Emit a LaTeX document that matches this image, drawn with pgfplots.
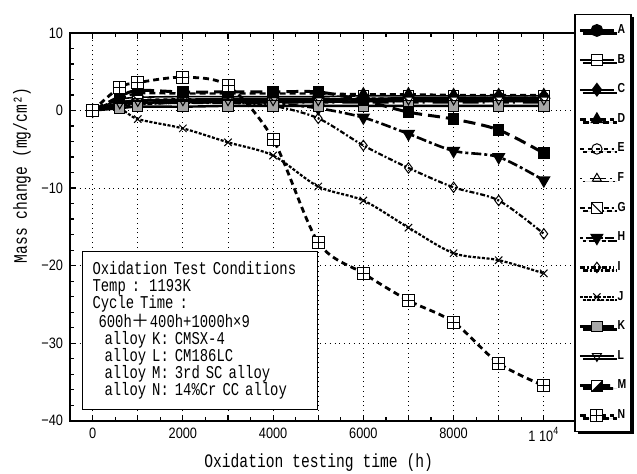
\documentclass[border=0pt]{standalone}
\usepackage{fontspec}
\setmainfont{Liberation Mono}[FakeStretch=0.77]
\newfontfamily\ticksf{Liberation Sans}[FakeStretch=0.85]
\newfontfamily\legsf{Liberation Sans}[FakeStretch=0.8]
\newfontfamily\cjk{Noto Sans CJK JP}
\usepackage{pgfplots}
\pgfplotsset{compat=1.18}
\usetikzlibrary{shadows}

% square marks used by B, G, M, N
\pgfdeclareplotmark{sqcross}{%
  \pgfpathrectangle{\pgfpoint{-\pgfplotmarksize}{-\pgfplotmarksize}}{\pgfpoint{2\pgfplotmarksize}{2\pgfplotmarksize}}%
  \pgfusepathqfillstroke
  \pgfpathmoveto{\pgfpoint{-\pgfplotmarksize}{0pt}}\pgfpathlineto{\pgfpoint{\pgfplotmarksize}{0pt}}%
  \pgfpathmoveto{\pgfpoint{0pt}{-\pgfplotmarksize}}\pgfpathlineto{\pgfpoint{0pt}{\pgfplotmarksize}}%
  \pgfusepathqstroke}
\pgfdeclareplotmark{sqhline}{%
  \pgfpathrectangle{\pgfpoint{-\pgfplotmarksize}{-\pgfplotmarksize}}{\pgfpoint{2\pgfplotmarksize}{2\pgfplotmarksize}}%
  \pgfusepathqfillstroke
  \pgfpathmoveto{\pgfpoint{-\pgfplotmarksize}{0pt}}\pgfpathlineto{\pgfpoint{\pgfplotmarksize}{0pt}}%
  \pgfusepathqstroke}
\pgfdeclareplotmark{sqdiag}{%
  \pgfpathrectangle{\pgfpoint{-\pgfplotmarksize}{-\pgfplotmarksize}}{\pgfpoint{2\pgfplotmarksize}{2\pgfplotmarksize}}%
  \pgfusepathqfillstroke
  \pgfpathmoveto{\pgfpoint{-\pgfplotmarksize}{\pgfplotmarksize}}\pgfpathlineto{\pgfpoint{\pgfplotmarksize}{-\pgfplotmarksize}}%
  \pgfusepathqstroke}
\pgfdeclareplotmark{sqhalf}{%
  \pgfpathrectangle{\pgfpoint{-\pgfplotmarksize}{-\pgfplotmarksize}}{\pgfpoint{2\pgfplotmarksize}{2\pgfplotmarksize}}%
  \pgfusepathqfillstroke
  \pgfpathmoveto{\pgfpoint{-\pgfplotmarksize}{-\pgfplotmarksize}}%
  \pgfpathlineto{\pgfpoint{\pgfplotmarksize}{-\pgfplotmarksize}}%
  \pgfpathlineto{\pgfpoint{\pgfplotmarksize}{\pgfplotmarksize}}%
  \pgfpathclose
  \pgfsetfillcolor{black}\pgfusepathqfill}

\begin{document}
\begin{tikzpicture}
\begin{axis}[
  scale only axis, width=259pt, height=193.5pt,
  xmin=-500, xmax=11000, ymin=-40, ymax=10,
  scaled x ticks=false,
  xtick={0,1000,...,10000},
  xticklabels={0,{},2000,{},4000,{},6000,{},8000,{},1 10\textsuperscript{4}},
  minor x tick num=1,
  ytick={-40,-30,...,10},
  yticklabels={−40,−30,−20,−10,0,10},
  minor y tick num=4,
  grid=major,
  major grid style={black, dotted, line width=0.5pt},
  axis line style={line width=1pt},
  tick style={black, line width=0.6pt},
  major tick length=3pt, minor tick length=1.8pt,
  tick label style={font=\ticksf\fontsize{7.5}{9}\selectfont},
  xlabel={Oxidation testing time (h)},
  ylabel={Mass change (mg/cm²)},
  label style={font=\fontsize{9.5}{11}\selectfont},
  xlabel style={at={(axis description cs:0.479,-0.109)}, anchor=center},
  ylabel style={at={(axis description cs:-0.093,0.633)}, anchor=center},
  mark size=2.6pt,
  legend style={at={(axis description cs:1.083,1.05)}, anchor=north east,
    draw=black, line width=0.8pt, fill=white,
    font=\legsf\bfseries\fontsize{6.5}{7}\selectfont,
    row sep=4.8pt, inner xsep=1.5pt, inner ysep=3pt,
    nodes={inner xsep=1pt},
    drop shadow={shadow xshift=1.5pt, shadow yshift=-1.5pt, opacity=1, fill=black}},
  legend cell align=left,
  legend image code/.code={\draw[mark repeat=2,mark phase=2] plot coordinates {(0cm,0cm) (0.3cm,0cm) (0.6cm,0cm)};},
]
% A
\addplot[smooth, black, line width=1.2pt, mark=*, mark options={solid}] coordinates {
 (0,0) (600,1.0) (1000,1.3) (2000,1.4) (3000,1.5) (4000,1.5) (5000,1.5) (6000,1.5) (7000,1.6) (8000,1.6) (9000,1.6) (10000,1.6)};
\addlegendentry{A}
% B
\addplot[smooth, black, line width=0.8pt, mark=sqhline, mark options={solid, fill=white, line width=0.5pt}] coordinates {
 (0,0) (600,1.4) (1000,1.7) (2000,1.8) (3000,1.8) (4000,1.8) (5000,1.8) (6000,1.9) (7000,1.9) (8000,1.9) (9000,1.9) (10000,1.9)};
\addlegendentry{B}
% C
\addplot[smooth, black, line width=1.2pt, mark=diamond*, mark options={solid}] coordinates {
 (0,0) (600,0.8) (1000,1.0) (2000,1.1) (3000,1.1) (4000,1.1) (5000,1.1) (6000,1.2) (7000,1.2) (8000,1.2) (9000,1.2) (10000,1.2)};
\addlegendentry{C}
% D
\addplot[smooth, black, line width=1.2pt, dash pattern=on 3pt off 2pt, mark=triangle*, mark options={solid}] coordinates {
 (0,0) (600,1.5) (1000,2.2) (2000,2.2) (3000,2.2) (4000,2.2) (5000,2.2) (6000,2.1) (7000,2.1) (8000,2.0) (9000,2.0) (10000,2.0)};
\addlegendentry{D}
% E
\addplot[smooth, black, line width=0.8pt, dash pattern=on 2pt off 2pt, mark=o, mark options={solid, fill=white, line width=0.5pt}] coordinates {
 (0,0) (600,1.0) (1000,1.4) (2000,1.5) (3000,1.5) (4000,1.5) (5000,1.5) (6000,1.6) (7000,1.6) (8000,1.6) (9000,1.7) (10000,1.7)};
\addlegendentry{E}
% F
\addplot[smooth, black, line width=0.8pt, dash pattern=on 1pt off 4pt on 8pt off 2pt, mark=triangle, mark options={solid, fill=white, line width=0.5pt}] coordinates {
 (0,0) (600,0.6) (1000,0.9) (2000,1.0) (3000,1.0) (4000,1.0) (5000,1.0) (6000,1.0) (7000,1.0) (8000,1.0) (9000,1.0) (10000,1.0)};
\addlegendentry{F}
% G
\addplot[smooth, black, line width=0.9pt, dash pattern=on 2.5pt off 1.5pt, mark=sqdiag, mark options={solid, fill=white, line width=0.5pt}] coordinates {
 (0,0) (600,1.0) (1000,1.3) (2000,1.3) (3000,1.3) (4000,1.3) (5000,1.2) (6000,1.2) (7000,1.2) (8000,1.2) (9000,1.2) (10000,1.2)};
\addlegendentry{G}
% H
\addplot[smooth, black, line width=1.3pt, dash pattern=on 1.5pt off 1.5pt on 5pt off 1.5pt, mark=triangle*, mark options={solid, rotate=180}] coordinates {
 (0,0) (600,0.6) (1000,0.9) (2000,1.0) (3000,1.0) (4000,0.9) (5000,0.3) (6000,-0.9) (7000,-3.0) (8000,-5.2) (9000,-6.0) (10000,-9.0)};
\addlegendentry{H}
% I
\addplot[smooth, black, line width=1.1pt, dash pattern=on 2.5pt off 1pt on 1pt off 1pt, mark=diamond, mark options={solid, fill=white, line width=0.5pt}] coordinates {
 (0,0) (600,0.5) (1000,0.8) (2000,1.0) (3000,1.0) (4000,0.6) (5000,-1.0) (6000,-4.5) (7000,-7.4) (8000,-9.9) (9000,-11.6) (10000,-15.9)};
\addlegendentry{I}
% J
\addplot[smooth, black, line width=1.1pt, dash pattern=on 1.5pt off 0.8pt, mark=x, mark options={solid, line width=0.5pt}] coordinates {
 (0,0) (600,0.2) (1000,-1.1) (2000,-2.3) (3000,-4.1) (4000,-5.8) (5000,-9.8) (6000,-11.6) (7000,-15.1) (8000,-18.4) (9000,-19.3) (10000,-21.0)};
\addlegendentry{J}
% K
\addplot[smooth, black, line width=1.2pt, mark=square*, mark options={solid, fill=gray!70, line width=0.5pt}] coordinates {
 (0,0) (600,0.3) (1000,0.5) (2000,0.5) (3000,0.6) (4000,0.6) (5000,0.6) (6000,0.6) (7000,0.6) (8000,0.6) (9000,0.6) (10000,0.6)};
\addlegendentry{K}
% L
\addplot[smooth, black, line width=0.8pt, mark=triangle, mark options={solid, rotate=180, fill=white, line width=0.5pt}] coordinates {
 (0,0) (600,0.9) (1000,1.2) (2000,1.3) (3000,1.3) (4000,1.3) (5000,1.3) (6000,1.4) (7000,1.4) (8000,1.4) (9000,1.4) (10000,1.4)};
\addlegendentry{L}
% M
\addplot[smooth, black, line width=1.5pt, dash pattern=on 6pt off 3pt, mark=sqhalf, mark options={solid, fill=white, line width=0.5pt}] coordinates {
 (0,0) (600,1.8) (1000,2.6) (2000,2.4) (3000,2.4) (4000,2.4) (5000,2.4) (6000,1.3) (7000,-0.2) (8000,-1.1) (9000,-2.5) (10000,-5.5)};
\addlegendentry{M}
% N
\addplot[smooth, black, line width=1.4pt, dash pattern=on 3pt off 2pt, mark=sqcross, mark size=3pt, mark options={solid, fill=white, line width=0.5pt}] coordinates {
 (0,0) (600,3.0) (1000,3.6) (2000,4.3) (3000,3.2) (4000,-3.7) (5000,-17.0) (6000,-21.0) (7000,-24.5) (8000,-27.3) (9000,-32.6) (10000,-35.5)};
\addlegendentry{N}

\node[draw=black, line width=0.5pt, fill=white, anchor=south west, inner sep=5pt,
      text width=107.5pt, align=left, font=\fontsize{9}{8.5}\selectfont]
  at (axis description cs:0.023,0.028) {%
  Oxidation Test Conditions\\
  Temp : 1193K\\
  Cycle Time :\\
  ~600h{\cjk ＋}400h+1000h×9\\
  ~~alloy K: CMSX-4\\
  ~~alloy L: CM186LC\\
  ~~alloy M: 3rd SC alloy\\
  ~~alloy N: 14\%Cr CC alloy};

\coordinate (sw) at (rel axis cs:0,0);
\coordinate (ne) at (rel axis cs:1,1);
\end{axis}
\pgfresetboundingbox
\path[use as bounding box] ([shift={(-35pt,-26.5pt)}]sw) rectangle ([shift={(24pt,16.5pt)}]ne);
\end{tikzpicture}
\end{document}
